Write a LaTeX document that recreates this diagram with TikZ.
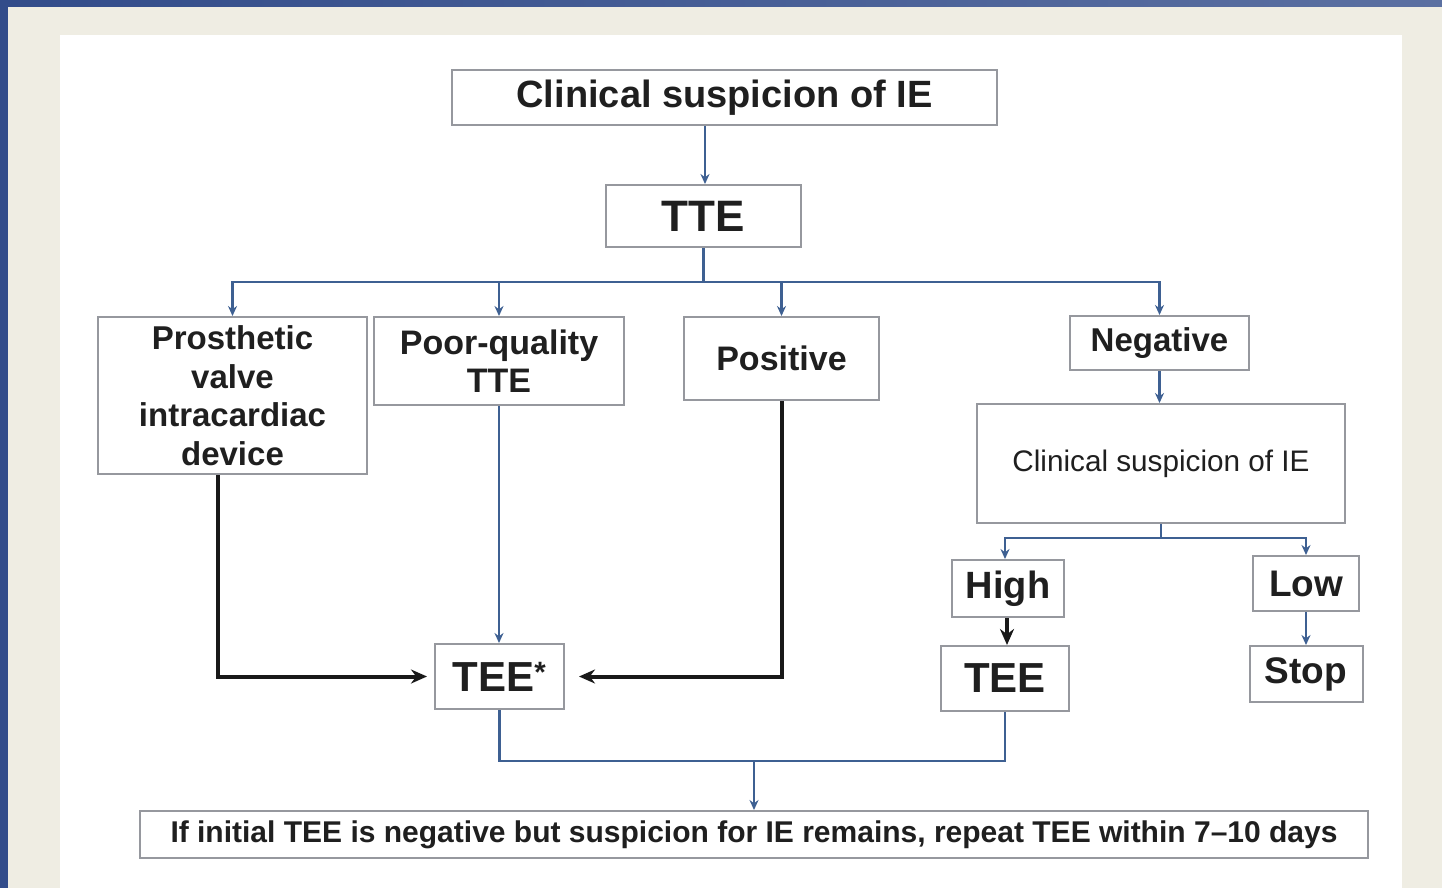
\documentclass[tikz,border=0pt]{standalone}
\usepackage{fontspec}
\setmainfont{Liberation Sans}
\usetikzlibrary{positioning,arrows.meta}
\definecolor{linkblue}{RGB}{62,96,146}
\definecolor{boxgray}{RGB}{150,152,158}
\definecolor{pagebg}{RGB}{239,237,227}
\definecolor{barblue}{RGB}{50,76,138}
\def\fsz#1#2{\fontsize{#1}{#2}\selectfont\bfseries}
\tikzset{
every path/.style={line width=2pt}
, every node/.style={text=black!88}
, stepbox/.style={draw=boxgray,line width=2pt,inner sep=0pt,fill=white,align=center}
, link/.style={color=linkblue,line width=2.6pt}
, linkarr/.style={link,-{Stealth[length=10pt,width=9pt]}}
, bigarr/.style={color=black!90,line width=4pt,-{Stealth[length=16pt,width=14pt]}}
, bigline/.style={color=black!90,line width=4pt}}

\begin{document}
\begin{tikzpicture}[x=1pt,y=-1pt]
\useasboundingbox (0,0) rectangle (1442,888);
% page
\fill[pagebg] (0,0) rectangle (1442,888);
\shade[left color=barblue,right color=barblue!80!white] (0,0) rectangle (1442,7);
\fill[barblue] (0,0) rectangle (8,888);
\fill[white] (60,35) rectangle (1402,888);
% boxes
\node[stepbox,minimum width=545pt,minimum height=55pt,font=\fsz{38}{40}] at (724.5,97.5) (top) {Clinical suspicion of IE};
\node[stepbox,minimum width=195pt,minimum height=62pt,font=\fsz{44}{46}] at (703.5,216) (tte) {TTE};
\node[stepbox,minimum width=269pt,minimum height=157pt,font=\fsz{33}{38.5}] at (232.5,395.5) (pros) {Prosthetic\\valve\\intracardiac\\device};
\node[stepbox,minimum width=250pt,minimum height=88pt,font=\fsz{34}{38}] at (499,361) (poor) {Poor-quality\\TTE};
\node[stepbox,minimum width=195pt,minimum height=83pt,font=\fsz{34}{38}] at (781.5,358.5) (pos) {Positive};
\node[stepbox,minimum width=179pt,minimum height=54pt,font=\fsz{33}{38}] at (1159.5,343) (neg) {Negative};
\node[stepbox,minimum width=368pt,minimum height=119pt,font=\fontsize{29.7}{32}\selectfont] at (1161,463.5) (clin) {Clinical suspicion of IE};
\node[stepbox,minimum width=112pt,minimum height=57pt,font=\fsz{38}{40}] at (1008,588.5) (high) {High};
\node[stepbox,minimum width=128pt,minimum height=65pt,font=\fsz{42}{44},below=27pt of high,xshift=-3pt] (teer) {TEE};
\node[stepbox,minimum width=106pt,minimum height=55pt,font=\fsz{37}{40}] at (1306,583.5) (low) {Low};
\node[stepbox,minimum width=113pt,minimum height=56pt,font=\fsz{37}{40},below=33pt of low] (stop) {Stop};
\node[stepbox,minimum width=129pt,minimum height=65pt,font=\fsz{42}{44}] at (499.5,676.5) (tees) {TEE\textsuperscript{*}};
\node[stepbox,minimum width=1228pt,minimum height=47pt,font=\fsz{30}{32}] at (754,834.5) (note) {If initial TEE is negative but suspicion for IE remains, repeat TEE within 7--10 days};
% connectors
\draw[linkarr] ([xshift=1.5pt]top.south -| tte.north) -- ([xshift=1.5pt]tte.north);
\draw[link] (tte.south) -- ++(0,34) coordinate (split);
\draw[linkarr] (split) -| (pros.north);
\draw[linkarr] (split) -| (poor.north);
\draw[linkarr] (split) -| (pos.north);
\draw[linkarr] (split) -| (neg.north);
\draw[linkarr] (neg.south) -- (neg.south |- clin.north);
\draw[link] (clin.south) -- ++(0,14) coordinate (split2);
\draw[linkarr] (split2) -| ([xshift=-3pt]high.north);
\draw[linkarr] (split2) -| (low.north);
\draw[bigarr] ([xshift=-1pt]high.south) -- ([xshift=-1pt]high.south |- teer.north);
\draw[linkarr] (low.south) -- (low.south |- stop.north);
\draw[linkarr] (poor.south) -- (poor.south |- tees.north);
\draw[bigarr,shorten >=7pt] ([xshift=-15pt]pros.south) |- (tees.west);
\draw[bigarr,shorten >=14pt] (pos.south) |- (tees.east);
\draw[link] (tees.south) -- ++(0,51) coordinate (join) -| (teer.south);
\draw[linkarr] (join -| note.north) -- (note.north);
\end{tikzpicture}
\end{document}
